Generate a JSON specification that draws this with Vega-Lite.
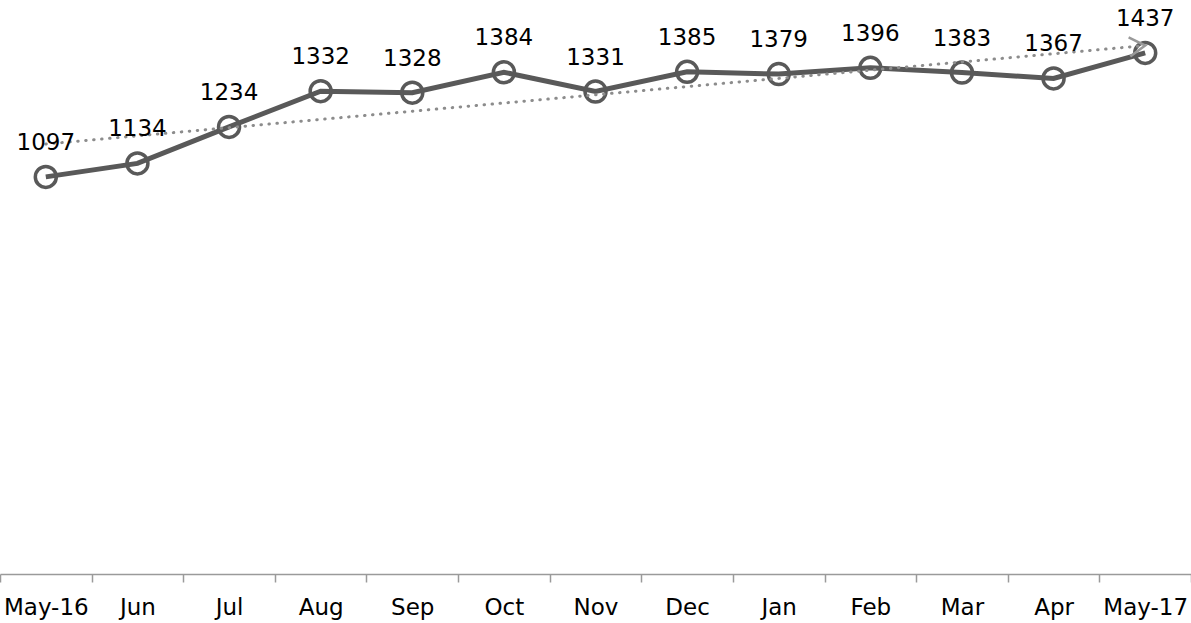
{
  "$schema": "https://vega.github.io/schema/vega-lite/v6.json",
  "width": 1191,
  "height": 577,
  "autosize": {"type": "none"},
  "padding": {"left": 0, "right": 0, "top": 0, "bottom": 46},
  "background": "white",
  "config": {"view": {"stroke": null}, "font": "DejaVu Sans"},
  "datasets": {
    "months": [
      {"n": 1, "month": "May-16", "value": 1097},
      {"n": 2, "month": "Jun", "value": 1134},
      {"n": 3, "month": "Jul", "value": 1234},
      {"n": 4, "month": "Aug", "value": 1332},
      {"n": 5, "month": "Sep", "value": 1328},
      {"n": 6, "month": "Oct", "value": 1384},
      {"n": 7, "month": "Nov", "value": 1331},
      {"n": 8, "month": "Dec", "value": 1385},
      {"n": 9, "month": "Jan", "value": 1379},
      {"n": 10, "month": "Feb", "value": 1396},
      {"n": 11, "month": "Mar", "value": 1383},
      {"n": 12, "month": "Apr", "value": 1367},
      {"n": 13, "month": "May-17", "value": 1437}
    ]
  },
  "data": {"name": "months"},
  "encoding": {
    "x": {
      "field": "month",
      "type": "nominal",
      "sort": ["May-16", "Jun", "Jul", "Aug", "Sep", "Oct", "Nov", "Dec", "Jan", "Feb", "Mar", "Apr", "May-17"],
      "scale": {"type": "band", "paddingInner": 0, "paddingOuter": 0},
      "axis": {
        "title": null,
        "tickBand": "extent",
        "offset": -3,
        "domainColor": "#9a9a9a",
        "domainWidth": 1.5,
        "tickColor": "#9a9a9a",
        "tickWidth": 1.5,
        "tickSize": 8,
        "labelAngle": 0,
        "labelFontSize": 23,
        "labelColor": "#000000",
        "labelPadding": 14,
        "labelFont": "DejaVu Sans"
      }
    },
    "y": {
      "field": "value",
      "type": "quantitative",
      "scale": {"domain": [0, 1582]},
      "axis": null
    }
  },
  "layer": [
    {
      "mark": {"type": "line", "color": "#595959", "strokeWidth": 5}
    },
    {
      "mark": {"type": "point", "shape": "circle", "filled": false, "stroke": "#595959", "strokeWidth": 3.5, "size": 441, "opacity": 1}
    },
    {
      "transform": [
        {"regression": "value", "on": "n"},
        {"lookup": "n", "from": {"data": {"name": "months"}, "key": "n", "fields": ["month"]}}
      ],
      "mark": {"type": "line", "color": "#8c8c8c", "strokeWidth": 3, "strokeDash": [0.5, 7.5], "strokeCap": "round"}
    },
    {
      "transform": [
        {"regression": "value", "on": "n"},
        {"filter": "datum.n > 12"},
        {"lookup": "n", "from": {"data": {"name": "months"}, "key": "n", "fields": ["month"]}}
      ],
      "mark": {"type": "point", "shape": "M-1,-0.6L0,0L-1,0.6", "filled": false, "stroke": "#999999", "strokeWidth": 2.5, "size": 1000, "angle": 355, "opacity": 1}
    },
    {
      "mark": {"type": "text", "dy": -34, "fontSize": 23, "color": "#000000", "font": "DejaVu Sans"},
      "encoding": {"text": {"field": "value", "type": "quantitative"}}
    }
  ]
}
